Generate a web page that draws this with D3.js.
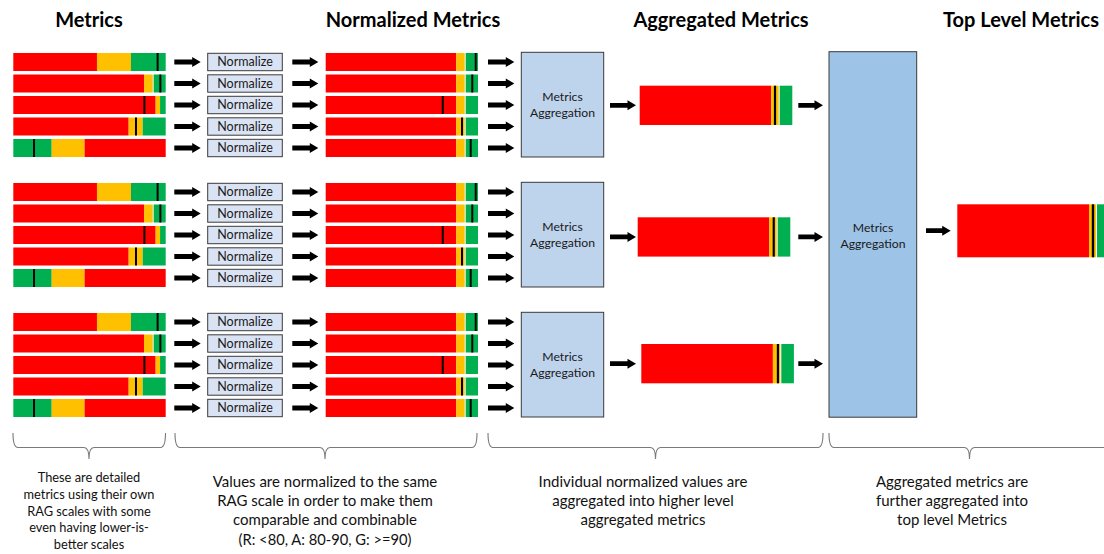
<!DOCTYPE html>
<html><head><meta charset="utf-8">
<script src="https://cdn.jsdelivr.net/npm/d3@7"></script>
<style>html,body{margin:0;padding:0;background:#fff;overflow:hidden}svg{display:block}</style>
</head><body>
<svg id="c" width="1104" height="554"></svg>
<script>
// ---------------- DATA ----------------
const headers = ["Metrics", "Normalized Metrics", "Aggregated Metrics", "Top Level Metrics"];
const groupIds = [0, 1, 2];
// raw metric bars: [rag, start, end] on each metric's own 0-100 scale
const metricSegments = [
  [["R", 0, 54.9], ["A", 54.9, 77.2], ["G", 77.2, 100]],
  [["R", 0, 85.8], ["A", 85.8, 91.5], ["G", 92.1, 100]],
  [["R", 0, 93.4], ["A", 93.4, 96.3], ["G", 96.3, 100]],
  [["R", 0, 75.7], ["A", 75.7, 84.9], ["G", 84.9, 100]],
  [["G", 0, 25.2], ["A", 25.2, 46.8], ["R", 46.8, 100]]
];
const metricValues = [94.7, 96.5, 86.0, 80.5, 13.6];
// normalized RAG scale (R: <80, A: 80-90, G: >=90)
const ragThresholds = [0, 80, 90, 100];
const normSegments = [["R", 0, 80], ["A", 80, 90], ["G", 90, 100]];
const normValues = [
  [98.3, 95.7, 71.7, 86.8, 94.5],
  [98.3, 95.7, 71.7, 86.8, 94.5],
  [98.3, 95.7, 71.7, 86.8, 94.5]
];
const aggValues = [85.0, 86.0, 86.8];
const topValue = 85.7;
const normalizeLabel = "Normalize";
const aggLabel = ["Metrics", "Aggregation"];
const notes = [
  {lines: ["These are detailed", "metrics using their own", "RAG scales with some", "even having lower-is-", "better scales"], size: 12.8, lh: 16.8},
  {lines: ["Values are normalized to the same", "RAG scale in order to make them", "comparable and combinable", "(R: <80, A: 80-90, G: >=90)"], size: 15, lh: 19},
  {lines: ["Individual normalized values are", "aggregated into higher level", "aggregated metrics"], size: 15, lh: 19},
  {lines: ["Aggregated metrics are", "further aggregated into", "top level Metrics"], size: 15, lh: 19}
];

// ---------------- LAYOUT ----------------
const RAG = {R: "#ff0000", A: "#ffc000", G: "#00b050"};
const FONT = "Lato, 'Open Sans', sans-serif";
const svg = d3.select("#c");
const rowY0 = 53, rowStep = 21.5, groupStep = 130, barH = 18;
const rowY = (g, i) => rowY0 + g * groupStep + i * rowStep;

const xMetric = d3.scaleLinear().domain([0, 100]).range([13.3, 165.7]);
const xNorm = d3.scaleLinear().domain(ragThresholds).range([325.7, 456.3, 464.7, 478]);

function arrow(x0, x1, y) {
  const sh = 2.4, hh = 5, hl = 8.5;
  const p = d3.path();
  p.moveTo(x0, y - sh); p.lineTo(x1 - hl, y - sh); p.lineTo(x1 - hl, y - hh);
  p.lineTo(x1, y); p.lineTo(x1 - hl, y + hh); p.lineTo(x1 - hl, y + sh);
  p.lineTo(x0, y + sh); p.closePath();
  svg.append("path").attr("d", p.toString()).attr("fill", "#000");
}

function ragBar(scale, segs, value, y, h, markW, gap) {
  const g = svg.append("g");
  segs.forEach((s, k) => {
    let x0 = scale(s[1]);
    if (gap && s[0] === "G" && k > 0) x0 += 1;
    g.append("rect").attr("x", x0).attr("y", y)
      .attr("width", Math.max(0, scale(s[2]) - x0)).attr("height", h)
      .attr("fill", RAG[s[0]]);
  });
  g.append("rect").attr("x", scale(value) - markW / 2).attr("y", y)
    .attr("width", markW).attr("height", h).attr("fill", "#000");
}

// headers
const headerX = [89, 413, 721, 1021];
headers.forEach((t, i) => {
  svg.append("text").attr("x", headerX[i]).attr("y", 27).attr("text-anchor", "middle")
    .attr("font-family", FONT).attr("font-weight", "bold").attr("font-size", 20)
    .attr("fill", "#000").text(t);
});

// groups
const aggX = [639.7, 637.7, 641.3];
const aggY = [85.7, 217.3, 344];
groupIds.forEach(g => {
  metricSegments.forEach((segs, i) => {
    const y = rowY(g, i);
    const cy = y + barH / 2;
    ragBar(xMetric, segs, metricValues[i], y, barH, 2, false);
    arrow(174.3, 200.7, cy);
    svg.append("rect").attr("x", 207.7).attr("y", y + 0.3).attr("width", 74.6).attr("height", 17.4)
      .attr("fill", "#dae3f3").attr("stroke", "#3a3a3a").attr("stroke-width", 1);
    svg.append("text").attr("x", 245).attr("y", cy + 4.3).attr("text-anchor", "middle")
      .attr("font-family", FONT).attr("font-size", 12.5).attr("fill", "#1a1a1a").text(normalizeLabel);
    arrow(292.3, 318.3, cy);
    ragBar(xNorm, normSegments, normValues[g][i], y, barH, 2, true);
    arrow(488, 514.3, cy);
  });
  // aggregation box
  const by = rowY(g, 0) - 0.7, bh = 104.7;
  svg.append("rect").attr("x", 521.3).attr("y", by).attr("width", 82.4).attr("height", bh)
    .attr("fill", "#bed3ec").attr("stroke", "#3a3a3a").attr("stroke-width", 1);
  aggLabel.forEach((t, k) => {
    svg.append("text").attr("x", 562.5).attr("y", by + bh / 2 - 3.5 + k * 16).attr("text-anchor", "middle")
      .attr("font-family", FONT).attr("font-size", 12.2).attr("fill", "#1a1a1a").text(t);
  });
  const ay = aggY[g], ah = 39.3;
  arrow(610, 636, ay + ah / 2);
  const xAgg = d3.scaleLinear().domain(ragThresholds)
    .range([aggX[g], aggX[g] + 131.6, aggX[g] + 139, aggX[g] + 152.6]);
  ragBar(xAgg, normSegments, aggValues[g], ay, ah, 2.2, true);
  arrow(798.3, 823, ay + ah / 2);
});

// top level aggregation box
svg.append("rect").attr("x", 829).attr("y", 51.7).attr("width", 87.7).attr("height", 365.5)
  .attr("fill", "#9dc3e6").attr("stroke", "#3a3a3a").attr("stroke-width", 1);
aggLabel.forEach((t, k) => {
  svg.append("text").attr("x", 873).attr("y", 231.5 + k * 16).attr("text-anchor", "middle")
    .attr("font-family", FONT).attr("font-size", 12.2).attr("fill", "#1a1a1a").text(t);
});
arrow(926, 950.7, 230.7);
const xTop = d3.scaleLinear().domain(ragThresholds).range([957.3, 1089, 1096, 1111]);
ragBar(xTop, normSegments, topValue, 204.3, 53, 2.4, true);

// braces
const braces = [[13, 165.5, 89], [175, 477, 325], [488, 823, 655.5], [829, 1110, 969.5]];
const bTop = 433, bMid = 447.5, bTip = 459, r = 5;
braces.forEach(([x0, x1, xt]) => {
  const p = d3.path();
  p.moveTo(x0, bTop);
  p.quadraticCurveTo(x0, bMid, x0 + r, bMid);
  p.lineTo(xt - r, bMid);
  p.quadraticCurveTo(xt, bMid, xt, bTip);
  p.moveTo(x1, bTop);
  p.quadraticCurveTo(x1, bMid, x1 - r, bMid);
  p.lineTo(xt + r, bMid);
  p.quadraticCurveTo(xt, bMid, xt, bTip);
  svg.append("path").attr("d", p.toString()).attr("fill", "none")
    .attr("stroke", "#7a7a7a").attr("stroke-width", 1.1);
});

// notes
const noteX = [89, 325, 643, 952];
const noteY = [482, 487, 487, 487];
notes.forEach((n, i) => {
  const t = svg.append("text").attr("text-anchor", "middle")
    .attr("font-family", FONT).attr("fill", "#111");
  n.lines.forEach((l, k) => {
    const last = (i === 1 && k === 3);
    t.append("tspan").attr("x", noteX[i]).attr("y", noteY[i] + k * n.lh + (last ? 0.5 : 0))
      .attr("font-size", last ? n.size - 0.3 : n.size).text(l);
  });
});
</script>
</body></html>
